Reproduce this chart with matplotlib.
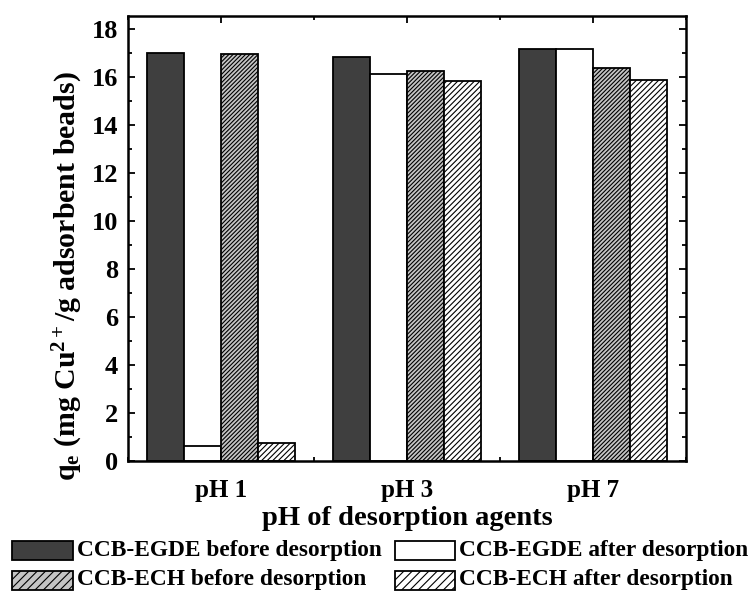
import numpy as np
import matplotlib
matplotlib.use("Agg")
import matplotlib.pyplot as plt
from matplotlib.patches import Rectangle
from matplotlib.ticker import MultipleLocator

plt.rcParams["font.family"] = "Liberation Serif"
plt.rcParams["font.weight"] = "bold"
plt.rcParams["axes.labelweight"] = "bold"
plt.rcParams["mathtext.fontset"] = "custom"
plt.rcParams["mathtext.rm"] = "Liberation Serif:bold"
plt.rcParams["mathtext.it"] = "Liberation Serif:bold"
plt.rcParams["mathtext.bf"] = "Liberation Serif:bold"
plt.rcParams["hatch.linewidth"] = 0.8

# adsorption capacity before / after desorption
ph_labels = ["pH 1", "pH 3", "pH 7"]
egde_before = [17.01, 16.85, 17.18]
egde_after = [0.64, 16.13, 17.15]
ech_before = [16.94, 16.26, 16.36]
ech_after = [0.74, 15.85, 15.87]

series = [
    ("CCB-EGDE before desorption", egde_before, "#3f3f3f", None),
    ("CCB-EGDE after desorption", egde_after, "white", None),
    ("CCB-ECH before desorption", ech_before, "#c4c4c4", "////////"),
    ("CCB-ECH after desorption", ech_after, "white", "//////"),
]

W, H = 750, 592
fig = plt.figure(figsize=(W / 100, H / 100), dpi=100)
ax = fig.add_axes([128 / W, 1 - 461 / H, 558 / W, 445.4 / H])

x = np.arange(1, len(ph_labels) + 1)
bw = 0.2
for i, (name, vals, fc, hatch) in enumerate(series):
    ax.bar(x + (i - 1.5) * bw, vals, bw, color=fc, edgecolor="black",
           linewidth=1.3, hatch=hatch, label=name)

ax.set_xlim(0.5, 3.5)
ax.set_ylim(0, 18.56)
ax.set_xticks(x)
ax.set_xticklabels(ph_labels)
ax.xaxis.set_minor_locator(MultipleLocator(0.5))
ax.yaxis.set_major_locator(MultipleLocator(2))
ax.yaxis.set_minor_locator(MultipleLocator(1))
ax.tick_params(which="both", direction="in", top=True, right=True, width=1.3)
ax.tick_params(which="major", length=5)
ax.tick_params(which="minor", length=3)
ax.tick_params(axis="y", labelsize=19, pad=7)
ax.tick_params(axis="x", labelsize=18, pad=13)
for s in ax.spines.values():
    s.set_linewidth(1.8)

ax.set_xlabel("pH of desorption agents", fontsize=20.5, labelpad=3)
ax.set_ylabel(r"q$_{\mathrm{e}}$ (mg Cu$^{\mathrm{2+}}$/g adsorbent beads)",
              fontsize=21.5, va="center")
ax.yaxis.set_label_coords(-0.107, 0.415)

# legend laid out in two rows under the axis label
entries = [
    (0, 12, 73, 550.5),
    (1, 395, 455, 550.5),
    (2, 12, 73, 580),
    (3, 395, 455, 580),
]
for idx, x0, x1, yc in entries:
    name, _, fc, hatch = series[idx]
    h = 19
    fig.patches.append(Rectangle((x0 / W, 1 - (yc + h / 2) / H), (x1 - x0) / W, h / H,
                                 transform=fig.transFigure, facecolor=fc,
                                 edgecolor="black", linewidth=1.3,
                                 hatch=hatch[:4] if hatch else None))
    fig.text((x1 + 4) / W, 1 - yc / H, name, fontsize=16.8, va="center", ha="left")

fig.savefig("out.png", dpi=100)
